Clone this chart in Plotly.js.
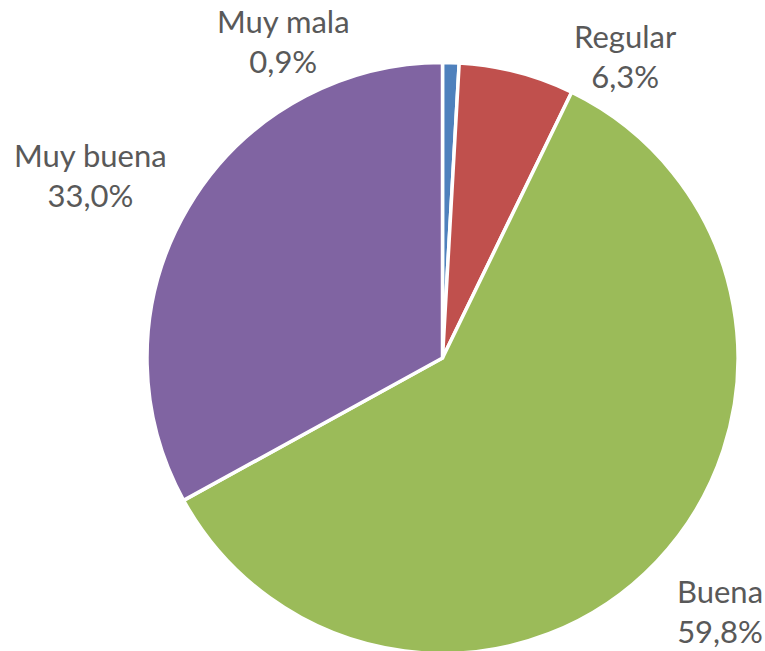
<!DOCTYPE html>
<html>
<head>
<meta charset="utf-8">
<script src="https://cdn.plot.ly/plotly-3.0.1.min.js"></script>
<style>
html,body{margin:0;padding:0;overflow:hidden;background:#fff;}
#chart{width:765px;height:660px;}
</style>
</head>
<body>
<div id="chart"></div>
<script>
const categories = ["Muy mala", "Regular", "Buena", "Muy buena"];
const values = [0.9, 6.3, 59.8, 33.0];
const colors = ["#4F81BD", "#C0504D", "#9BBB59", "#8064A2"];

const W = 765, H = 660;
const fmt = v => v.toFixed(1).replace('.', ',') + '%';
const labelText = categories.map((c, i) => c + '<br>' + fmt(values[i]));

// label block centres in pixels
const labelPos = [[283, 41], [625, 56], [720, 611], [90, 175]];

const trace = {
  type: 'pie',
  labels: categories,
  values: values,
  sort: false,
  direction: 'clockwise',
  rotation: 0,
  textinfo: 'none',
  hoverinfo: 'label+percent',
  marker: {colors: colors, line: {color: '#ffffff', width: 3.5}},
  domain: {x: [147 / W, 738 / W], y: [(H - 358 - 295.5) / H, (H - 358 + 295.5) / H]},
  showlegend: false
};

const annotations = labelText.map((t, i) => ({
  text: t,
  xref: 'paper', yref: 'paper',
  x: labelPos[i][0] / W, y: (H - labelPos[i][1]) / H,
  xanchor: 'center', yanchor: 'middle',
  showarrow: false,
  align: 'center',
  font: {family: 'Lato, "Open Sans", sans-serif', size: 31, color: '#595959'}
}));

Plotly.newPlot('chart', [trace], {
  width: W, height: H,
  margin: {l: 0, r: 0, t: 0, b: 0},
  paper_bgcolor: '#ffffff',
  annotations: annotations
}, {displayModeBar: false, staticPlot: true});
</script>
</body>
</html>
